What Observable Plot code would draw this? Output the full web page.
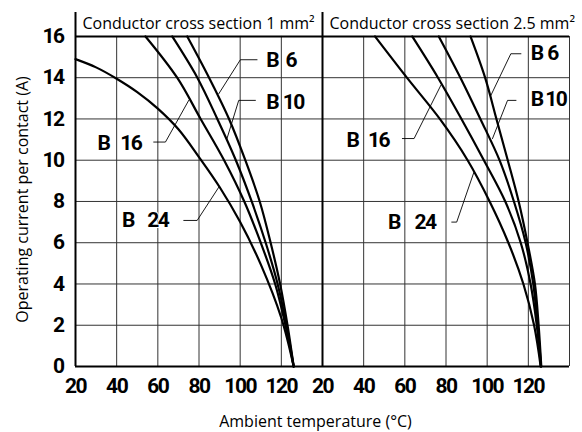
<!DOCTYPE html>
<html>
<head>
<meta charset="utf-8">
<script src="https://cdn.jsdelivr.net/npm/d3@7"></script>
<script src="https://cdn.jsdelivr.net/npm/@observablehq/plot@0.6"></script>
<style>
  html, body { margin: 0; padding: 0; background: #fff; }
  #chart { width: 582px; height: 432px; }
  #chart g[font-family^="Roboto"] { letter-spacing: -1.5px; }
</style>
</head>
<body>
<div id="chart"></div>
<script>
// ---------- data ----------
const panels = ["1 mm²", "2.5 mm²"];
const panelTitles = ["Conductor cross section 1 mm²", "Conductor cross section 2.5 mm²"];
const xTicks = [20, 40, 60, 80, 100, 120];
const yTicks = [0, 2, 4, 6, 8, 10, 12, 14, 16];
const gridX = [40, 60, 80, 100, 120, 140];
const gridY = [2, 4, 6, 8, 10, 12, 14];
const stdCurrents = [16, 14, 12, 10, 8, 6, 4, 2, 0];

// Conductor cross section 1 mm²  (temperature °C at given current A)
const b6_1_T  = [74.3, 84.9, 94.6, 102.5, 109.5, 114.8, 119.4, 123, 126];
const b10_1_T = [67, 79.2, 88.9, 97.9, 105.6, 112.4, 118.2, 122.5, 126];
const b16_1_T = [54, 69.4, 80.8, 92.2, 102, 110, 117, 122, 126];
const b24_1_T = [20, 30, 40, 50, 60, 70, 80, 90, 100, 110, 120, 126];
const b24_1_I = [14.9, 14.5, 13.95, 13.3, 12.5, 11.5, 10.15, 8.7, 7.0, 4.95, 2.35, 0];

// Conductor cross section 2.5 mm²
const b6_25_T  = [91.9, 99, 104.5, 110, 115.3, 119.6, 123.2, 125, 126.3];
const b10_25_T = [76.5, 87, 96.7, 106, 113, 118.7, 122.4, 124.5, 126.2];
const b16_25_T = [63.6, 76.1, 87.5, 98.4, 108.8, 116.3, 121.1, 124.1, 126.1];
const b24_25_T = [45.5, 61, 77, 90.5, 101.2, 110.3, 117.6, 122.8, 126];

// curve labels ("B" + number)
const labelPanel = [panels[0], panels[0], panels[0], panels[0], panels[1], panels[1], panels[1], panels[1]];
const labelNum   = ["6", "10", "16", "24", "6", "10", "16", "24"];
const labelB_T   = [115.6, 115.6, 33.6, 45.5, 124.1, 124.1, 34.6, 54.7];
const labelNum_T = [124.6, 125.8, 46.9, 60.0, 131.7, 133.3, 47.2, 69.8];
const labelI     = [14.84, 12.8, 10.8, 7.08, 15.16, 12.93, 10.96, 6.98];

// leader lines (3 points each)
const leaderT = [
  [108.2, 100.1, 89.6], [107.4, 99.3, 93.6], [58.0, 63.7, 75.0], [72.6, 79.1, 89.6],
  [116.4, 111.5, 101.8], [114.0, 109.9, 102.6], [58.8, 64.5, 77.5], [82.8, 85.2, 93.5]
];
const leaderI = [
  [14.87, 14.87, 13.22], [12.9, 12.9, 11.05], [10.88, 10.88, 12.9], [7.08, 7.08, 8.69],
  [15.16, 15.16, 13.14], [12.9, 12.9, 11.05], [11.05, 11.05, 13.63], [7.0, 7.0, 9.4]
];

// ---------- tables ----------
const seriesDefs = [
  {panel: panels[0], series: "B 6",  T: b6_1_T,  I: stdCurrents},
  {panel: panels[0], series: "B 10", T: b10_1_T, I: stdCurrents},
  {panel: panels[0], series: "B 16", T: b16_1_T, I: stdCurrents},
  {panel: panels[0], series: "B 24", T: b24_1_T, I: b24_1_I},
  {panel: panels[1], series: "B 6",  T: b6_25_T,  I: stdCurrents},
  {panel: panels[1], series: "B 10", T: b10_25_T, I: stdCurrents},
  {panel: panels[1], series: "B 16", T: b16_25_T, I: stdCurrents},
  {panel: panels[1], series: "B 24", T: b24_25_T, I: stdCurrents}
];
const curves = d3.sort(
  seriesDefs.flatMap(s => s.T.map((t, i) => ({panel: s.panel, key: s.panel + s.series, T: t, I: s.I[i]}))),
  d => d.I
);
const labels = labelPanel.map((p, i) => ({panel: p, num: labelNum[i], bT: labelB_T[i], nT: labelNum_T[i], I: labelI[i]}));
const leaders = leaderT.flatMap((ts, k) => ts.map((t, j) => ({panel: labelPanel[k], key: k, T: t, I: leaderI[k][j]})));
const titles = panels.map((p, i) => ({panel: p, title: panelTitles[i]}));

const numFont = "Roboto, 'Liberation Sans', sans-serif";
const textFont = "'Open Sans', 'Noto Sans', sans-serif";

const chart = Plot.plot({
  width: 582,
  height: 432,
  marginLeft: 75,
  marginRight: 13,
  marginTop: 12,
  marginBottom: 66,
  fx: {domain: panels, padding: 0, axis: null},
  x: {domain: [20, 140]},
  y: {domain: [0, 17.16]},
  style: {background: "white", color: "black"},
  marks: [
    // grid
    Plot.ruleX(gridX, {x: d => d, y1: 0, y2: 16, stroke: "#333", strokeWidth: 1}),
    Plot.ruleY(gridY, {y: d => d, stroke: "#333", strokeWidth: 1}),
    // frame
    Plot.ruleY([0, 16], {y: d => d, stroke: "black", strokeWidth: 2}),
    Plot.ruleX([20], {x: d => d, stroke: "black", strokeWidth: 2}),
    // panel headers
    Plot.text(titles, {fx: "panel", text: "title", frameAnchor: "top-left", textAnchor: "start", lineAnchor: "middle", dx: 7, dy: 11, fontFamily: textFont, fontSize: 16, fill: "black"}),
    // leaders
    Plot.line(leaders, {x: "T", y: "I", z: "key", fx: "panel", stroke: "black", strokeWidth: 0.9}),
    // curves
    Plot.line(curves, {x: "T", y: "I", z: "key", fx: "panel", curve: "catmull-rom", stroke: "black", strokeWidth: 2.2}),
    // labels
    Plot.text(labels, {x: "bT", y: "I", fx: "panel", text: () => "B", fontFamily: numFont, fontWeight: "bold", fontSize: 21, fill: "black"}),
    Plot.text(labels, {x: "nT", y: "I", fx: "panel", text: "num", fontFamily: numFont, fontWeight: "bold", fontSize: 21, fill: "black", stroke: "white", strokeWidth: 2}),
    // axes
    Plot.axisY({ticks: yTicks, tickSize: 0, tickPadding: 12, label: null, fontFamily: numFont, fontWeight: "bold", fontSize: 21}),
    Plot.axisX({ticks: xTicks, tickSize: 0, tickPadding: 12, label: null, fontFamily: numFont, fontWeight: "bold", fontSize: 21}),
    // axis titles
    Plot.text(["Ambient temperature (°C)"], {facet: "super", frameAnchor: "bottom", text: d => d, textAnchor: "middle", lineAnchor: "middle", dx: -7, dy: 55, fontFamily: textFont, fontSize: 16, fill: "black"}),
    Plot.text(["Operating current per contact (A)"], {facet: "super", frameAnchor: "left", text: d => d, textAnchor: "middle", lineAnchor: "middle", rotate: -90, dx: -52.5, dy: 10, fontFamily: textFont, fontSize: 16, fill: "black"})
  ]
});
document.getElementById("chart").append(chart);
</script>
</body>
</html>
